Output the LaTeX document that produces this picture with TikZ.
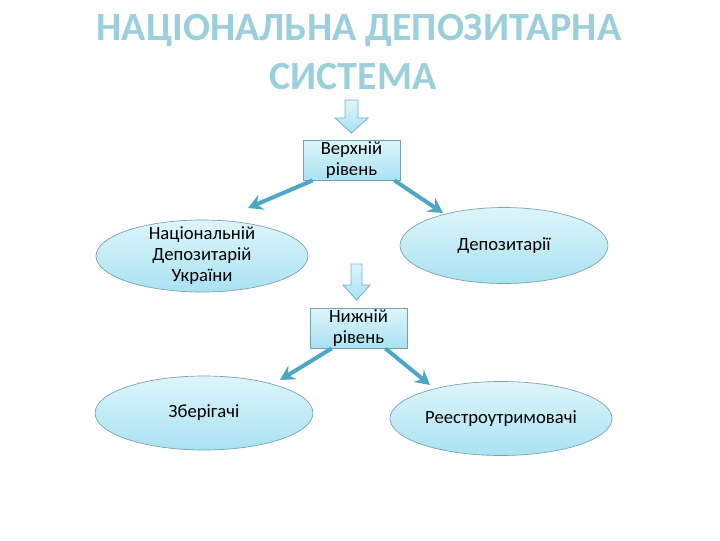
\documentclass[tikz,border=0pt]{standalone}
\usepackage{fontspec}
\setmainfont{Carlito}
\usetikzlibrary{arrows.meta,shapes.geometric}
\definecolor{titleblue}{RGB}{156,207,220}
\definecolor{fillA}{RGB}{222,245,251}
\definecolor{fillB}{RGB}{168,226,242}
\definecolor{edgeC}{RGB}{120,160,175}
\definecolor{connC}{RGB}{75,168,196}
\definecolor{barrowedge}{RGB}{110,180,200}
\tikzset{
  ovalbox/.style={ellipse, draw=edgeC, line width=0.5pt, top color=fillA, bottom color=fillB, inner sep=0pt, align=center, font=\fontsize{14}{15.75}\selectfont},
  levelbox/.style={rectangle, draw=edgeC, line width=0.6pt, top color=fillA, bottom color=fillB, inner sep=0pt, align=center, font=\fontsize{14}{15.5}\selectfont},
  conn/.style={draw=connC, line width=3pt, -{Stealth[length=11pt,width=12pt,inset=4pt]}},
  blockarrow/.style={draw=barrowedge, line width=0.6pt, top color=fillA, bottom color=fillB},
  titletext/.style={font=\fontsize{30}{36}\selectfont\bfseries, text=titleblue, inner sep=0pt}
}
\begin{document}
\begin{tikzpicture}[x=0.75pt,y=-0.75pt]
\useasboundingbox (0,0) rectangle (720,540);
\node[titletext] (t1) at (359,30) {НАЦІОНАЛЬНА ДЕПОЗИТАРНА};
\node[titletext] (t2) at (353,77) {СИСТЕМА};
% block arrow 1
\path[blockarrow] (345,100) -- (358,100) -- (358,118) -- (368,118) -- (351.5,133) -- (335,118) -- (345,118) -- cycle;
\node[levelbox, minimum width=72.75pt, minimum height=30pt] (top) at (351.5,160) {Верхній\\рівень};
\node[ovalbox, inner ysep=-6pt, minimum width=159pt, minimum height=54pt] (nbu) at (202,256) {Національній\\Депозитарій\\України};
\node[ovalbox, minimum width=156pt, minimum height=57pt] (dep) at (504,245.5) {Депозитарії};
% block arrow 2
\path[blockarrow] (351,264) -- (362,264) -- (362,285) -- (370,285) -- (356.5,300) -- (343,285) -- (351,285) -- cycle;
\node[levelbox, minimum width=72.75pt, minimum height=30pt] (low) at (358.5,328) {Нижній\\рівень};
\node[ovalbox, minimum width=163.5pt, minimum height=55.5pt] (zb) at (204,413) {Зберігачі};
\node[ovalbox, minimum width=166.5pt, minimum height=55.5pt] (reg) at (501,418.5) {Реестроутримовачі};
\coordinate (e1) at (248,208);
\coordinate (e2) at (443,213);
\coordinate (e3) at (280,380);
\coordinate (e4) at (430,385);
\draw[conn] (top.south west) ++(10,0) -- (e1);
\draw[conn] (top.south east) ++(-6,0) -- (e2);
\draw[conn] (low.south west) ++(22,0) -- (e3);
\draw[conn] (low.south east) ++(-22,0) -- (e4);
\end{tikzpicture}
\end{document}
